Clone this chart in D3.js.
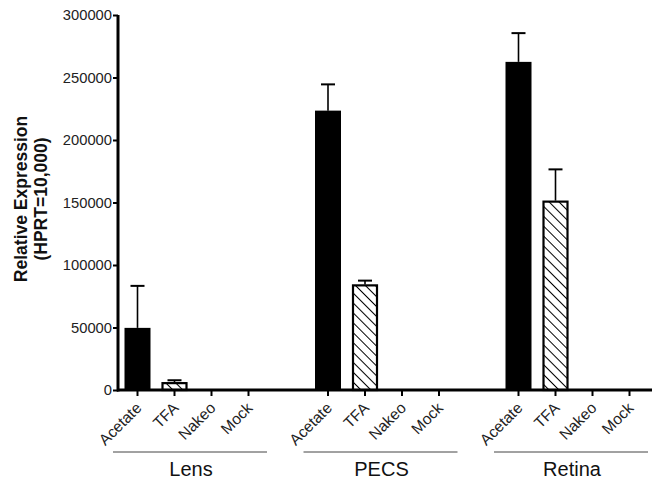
<!DOCTYPE html>
<html>
<head>
<meta charset="utf-8">
<script src="https://cdn.jsdelivr.net/npm/d3@7"></script>
<style>
  body { margin: 0; background: #fff; }
  svg { display: block; font-family: "Liberation Sans", Arial, sans-serif; }
</style>
</head>
<body>
<svg id="chart" width="652" height="480"></svg>
<script>
// data
const groups = ['Lens', 'PECS', 'Retina'];
const treatments = ['Acetate', 'TFA', 'Nakeo', 'Mock'];
const acetateMean = [49700, 223500, 262500];
const acetateErr = [83300, 244500, 285500];
const tfaMean = [6300, 84500, 151500];
const tfaErr = [7800, 87500, 176500];
const yTicks = [0, 50000, 100000, 150000, 200000, 250000, 300000];

const svg = d3.select('#chart');

const y = d3.scaleLinear().domain([0, 300000]).range([390, 15]);
const xGroup = d3.scalePoint().domain(groups).range([193, 574]);
const xInner = d3.scalePoint().domain(treatments).range([-55.5, 55.5]);
const barW = 26;

// table of bars
const bars = [];
groups.forEach((g, i) => {
  bars.push({ group: g, t: 'Acetate', v: acetateMean[i], err: acetateErr[i] });
  bars.push({ group: g, t: 'TFA', v: tfaMean[i], err: tfaErr[i] });
});
const cx = d => xGroup(d.group) + xInner(d.t);

// hatch pattern, lines running top-left to bottom-right
const defs = svg.append('defs');
defs.append('pattern')
  .attr('id', 'hatch')
  .attr('patternUnits', 'userSpaceOnUse')
  .attr('width', 7)
  .attr('height', 7)
  .attr('patternTransform', 'rotate(-45)')
  .append('line')
  .attr('x1', 0).attr('y1', 0)
  .attr('x2', 0).attr('y2', 7)
  .attr('stroke', '#000')
  .attr('stroke-width', 2);

// error bars (upper only)
const errG = svg.append('g');
errG.selectAll('line.stem').data(bars).join('line')
  .attr('x1', cx).attr('x2', cx)
  .attr('y1', d => y(d.v)).attr('y2', d => y(d.err))
  .attr('stroke', '#000').attr('stroke-width', 1.6);
errG.selectAll('line.cap').data(bars).join('line')
  .attr('x1', d => cx(d) - 7).attr('x2', d => cx(d) + 7)
  .attr('y1', d => y(d.err)).attr('y2', d => y(d.err))
  .attr('stroke', '#000').attr('stroke-width', 2);

// bars
svg.append('g').selectAll('rect').data(bars).join('rect')
  .attr('x', d => cx(d) - barW / 2 + (d.t === 'TFA' ? 1 : 0))
  .attr('width', d => d.t === 'TFA' ? barW - 2 : barW)
  .attr('y', d => y(d.v) + (d.t === 'TFA' ? 1 : 0))
  .attr('height', d => y(0) - y(d.v) - (d.t === 'TFA' ? 1 : 0))
  .attr('fill', d => d.t === 'Acetate' ? '#000' : 'url(#hatch)')
  .attr('stroke', '#000')
  .attr('stroke-width', d => d.t === 'TFA' ? 2.2 : 0);

// y axis
const yAxis = svg.append('g')
  .attr('transform', 'translate(118,0)')
  .call(d3.axisLeft(y).tickValues(yTicks).tickFormat(d3.format('d')).tickSize(5).tickPadding(1));
yAxis.select('.domain').attr('stroke-width', 3).attr('d', 'M0,' + y(300000) + 'V' + (y(0) + 1.5));
yAxis.selectAll('.tick line').attr('stroke-width', 2);
yAxis.selectAll('.tick text')
  .attr('font-size', 15).attr('fill', '#222')
  .attr('font-family', '"Liberation Sans", Arial, sans-serif')
  .attr('textLength', d => String(d).length * 8.2)
  .attr('lengthAdjust', 'spacingAndGlyphs');

// x axis
svg.append('line')
  .attr('x1', 117).attr('x2', 652)
  .attr('y1', y(0)).attr('y2', y(0))
  .attr('stroke', '#000').attr('stroke-width', 3);

const ticks = [];
groups.forEach(g => treatments.forEach(t => ticks.push({ group: g, t: t })));
svg.append('g').selectAll('line').data(ticks).join('line')
  .attr('x1', cx).attr('x2', cx)
  .attr('y1', y(0)).attr('y2', y(0) + 6)
  .attr('stroke', '#000').attr('stroke-width', 2);

svg.append('g').selectAll('text').data(ticks).join('text')
  .attr('transform', d => 'translate(' + (cx(d) + 5) + ',' + (y(0) + 19) + ') rotate(-45)')
  .attr('text-anchor', 'end')
  .attr('font-size', 15.5)
  .attr('fill', '#222')
  .text(d => d.t);

// group underlines and names
svg.append('g').selectAll('line').data(groups).join('line')
  .attr('x1', g => xGroup(g) - 80).attr('x2', g => xGroup(g) + 74)
  .attr('y1', 452).attr('y2', 452)
  .attr('stroke', '#444').attr('stroke-width', 1);

svg.append('g').selectAll('text').data(groups).join('text')
  .attr('x', g => xGroup(g) - 2)
  .attr('y', 476)
  .attr('text-anchor', 'middle')
  .attr('font-size', 20)
  .attr('fill', '#111')
  .text(g => g);

// y title
const yt = svg.append('text')
  .attr('transform', 'translate(0,199) rotate(-90)')
  .attr('text-anchor', 'middle')
  .attr('font-size', 17.5)
  .attr('font-weight', 'bold')
  .attr('fill', '#111');
yt.append('tspan').attr('x', 0).attr('y', 27).text('Relative Expression');
yt.append('tspan').attr('x', 0).attr('y', 47).text('(HPRT=10,000)');
</script>
</body>
</html>
